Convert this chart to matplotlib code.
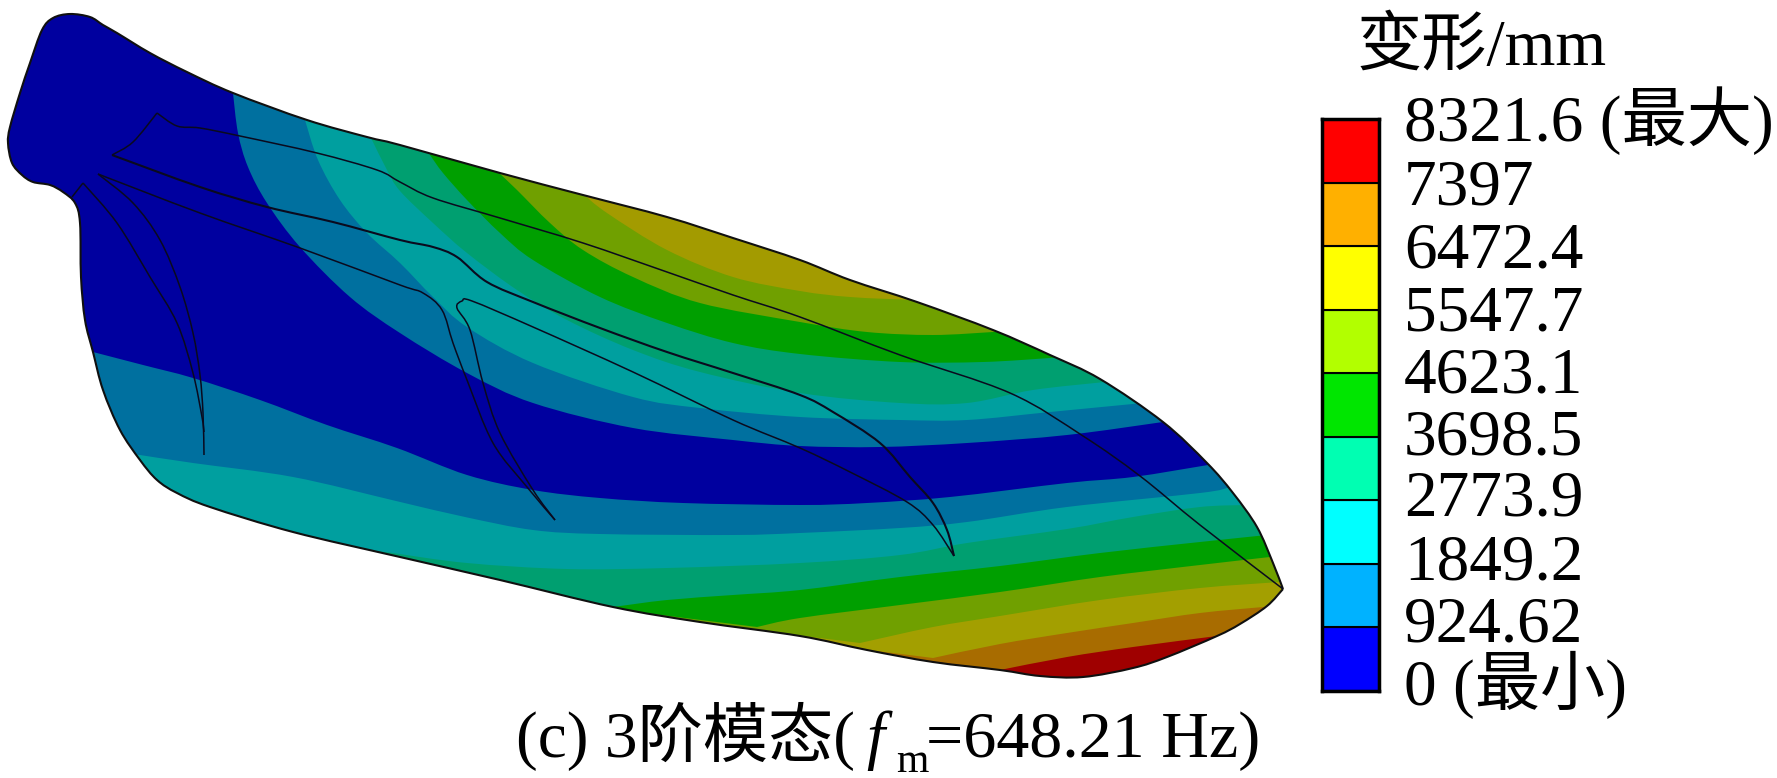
import numpy as np
import matplotlib
matplotlib.use('Agg')
import matplotlib.pyplot as plt
from matplotlib.path import Path
from matplotlib.patches import PathPatch

plt.rcParams['font.family'] = ['Liberation Serif', 'Noto Sans CJK SC']

# legend
levels = ['0 (最小)', '924.62', '1849.2', '2773.9', '3698.5', '4623.1',
          '5547.7', '6472.4', '7397', '8321.6 (最大)']
level_baselines = [705, 642, 580, 516, 454, 392, 330, 267, 204, 141]
bar_colors = ['#0000ff', '#00b2ff', '#00ffff', '#00ffb2', '#00e600',
              '#b2ff00', '#ffff00', '#ffb000', '#ff0000']

# colours on the blade (shaded versions of the legend)
blue = '#00009f'
upper_colors = ['#00709f', '#009f9f', '#009f70', '#009f00', '#70a000', '#a39b00']
lower_colors = ['#00709f', '#009f9f', '#009f70', '#009f00', '#70a000', '#a39f00',
                '#a86c00', '#9f0000']

# blade outline, starts and ends at the tip
outline = [(1283, 589), (1267, 606), (1240, 624), (1217, 636), (1167, 657), (1133, 668),
           (1083, 677), (1040, 676), (1000, 670), (933, 662), (867, 650), (800, 636),
           (700, 622), (613, 607), (500, 580), (400, 557), (293, 532), (210, 507),
           (177, 493), (157, 480), (140, 460), (120, 430), (103, 390), (93, 352),
           (85, 320), (81, 277), (80, 223), (75, 203), (63, 192), (50, 185), (33, 182),
           (22, 175), (12, 163), (8, 143), (10, 127), (20, 93), (30, 63), (42, 30),
           (53, 18), (70, 14), (90, 17), (103, 25), (117, 33), (150, 53), (187, 72),
           (233, 93), (307, 120), (367, 137), (400, 145), (500, 173), (583, 195),
           (667, 217), (733, 238), (800, 260), (850, 280), (917, 302), (993, 330),
           (1050, 355), (1100, 379), (1163, 422), (1207, 463), (1233, 493), (1257, 527),
           (1273, 563), (1283, 589)]

# contour lines of the upper bands
u1 = [(233, 93), (238, 133), (248, 167), (267, 203), (300, 247), (350, 297), (400, 333),
      (467, 373), (533, 403), (633, 428), (733, 440), (800, 446), (880, 447), (967, 443),
      (1067, 435), (1163, 422)]
u2 = [(305, 120), (318, 160), (340, 200), (367, 233), (400, 263), (433, 297), (467, 327),
      (533, 363), (633, 397), (700, 408), (800, 417), (900, 420), (967, 420), (1050, 412),
      (1143, 403)]
u3 = [(372, 140), (387, 170), (400, 191), (433, 223), (467, 253), (517, 290), (567, 320),
      (633, 350), (700, 372), (800, 393), (900, 403), (967, 403), (1033, 390), (1105, 382)]
u4 = [(430, 155), (443, 173), (467, 200), (500, 233), (533, 260), (600, 297), (667, 323),
      (733, 343), (800, 354), (900, 362), (983, 362), (1050, 358)]
u5 = [(498, 172), (517, 190), (550, 223), (583, 250), (633, 277), (700, 303), (800, 322),
      (867, 332), (933, 335), (993, 332)]
u6 = [(582, 193), (607, 213), (667, 250), (733, 277), (800, 291), (850, 297), (913, 300)]

# contour lines of the lower bands
l1 = [(93, 352), (143, 365), (193, 378), (260, 400), (327, 425), (397, 448), (467, 475),
      (533, 490), (600, 498), (683, 503), (800, 505), (867, 503), (950, 497), (1067, 483),
      (1133, 477), (1208, 465)]
l2 = [(140, 455), (193, 463), (293, 477), (396, 501), (465, 517), (533, 530), (600, 534),
      (733, 535), (800, 533), (900, 528), (967, 522), (1067, 507), (1200, 493), (1227, 488)]
l3 = [(393, 553), (467, 563), (567, 569), (667, 568), (800, 563), (900, 555), (967, 543),
      (1067, 529), (1133, 517), (1200, 507), (1245, 505)]
l4 = [(613, 607), (667, 600), (733, 595), (800, 590), (900, 577), (1000, 566), (1100, 553),
      (1200, 542), (1267, 535)]
l5 = [(757, 627), (800, 618), (900, 605), (1000, 592), (1100, 577), (1200, 565), (1270, 557)]
l6 = [(860, 643), (933, 627), (1000, 616), (1100, 600), (1200, 588), (1280, 582)]
l7 = [(933, 658), (1000, 644), (1067, 633), (1133, 623), (1200, 613), (1263, 607)]
l8 = [(1000, 670), (1067, 657), (1133, 647), (1217, 636)]

# black lines on the blade
line_a1 = [(112, 155), (133, 142), (157, 113)]
line_a2 = [(157, 113), (177, 126), (200, 128), (240, 136), (317, 153), (377, 170), (400, 182),
           (433, 198), (500, 218), (583, 243), (667, 272), (733, 295), (800, 317), (900, 355),
           (1010, 393), (1083, 436), (1140, 476), (1200, 525), (1283, 589)]
line_b = [(112, 155), (200, 187), (267, 207), (333, 222), (400, 240), (433, 247), (457, 257),
          (487, 282), (533, 302), (600, 328), (667, 352), (733, 373), (800, 395), (833, 412),
          (880, 443), (910, 477), (933, 503), (947, 530), (954, 556)]
line_c = [(954, 556), (933, 525), (907, 502), (850, 472), (800, 448), (733, 420), (633, 372),
          (533, 327), (472, 301), (462, 301), (457, 308), (470, 330), (483, 383), (500, 433),
          (533, 490), (555, 520)]
line_d = [(98, 174), (200, 213), (300, 248), (400, 285), (423, 293), (442, 310), (453, 343),
          (467, 380), (493, 443), (527, 487), (555, 520)]
line_e = [(98, 174), (133, 203), (160, 240), (180, 287), (193, 333), (200, 375), (203, 413),
          (204, 455)]
line_f1 = [(72, 197), (83, 183)]
line_f2 = [(83, 183), (117, 223), (150, 277), (177, 323), (193, 373), (202, 417), (204, 432)]


def smooth(pts):
    # bezier pieces through the points, so matplotlib draws a real curve
    p = np.array(pts, dtype=float)
    verts = [p[0]]
    for i in range(len(p) - 1):
        before = p[max(i - 1, 0)]
        after = p[min(i + 2, len(p) - 1)]
        verts.append(p[i] + (p[i + 1] - before) / 6)
        verts.append(p[i + 1] - (after - p[i]) / 6)
        verts.append(p[i + 1])
    codes = [Path.MOVETO] + [Path.CURVE4] * (len(verts) - 1)
    return verts, codes


def band(curve, before, after):
    # area on one side of a contour line, closed outside the blade
    v, c = smooth(curve)
    verts = before + v + after + [before[0]]
    codes = ([Path.MOVETO] + [Path.LINETO] * len(before) + c[1:]
             + [Path.LINETO] * len(after) + [Path.CLOSEPOLY])
    return Path(verts, codes)


fig = plt.figure(figsize=(17.77, 7.78), dpi=100)
ax = fig.add_axes([0, 0, 1, 1])
ax.set_xlim(0, 1777)
ax.set_ylim(778, 0)
ax.axis('off')

v, c = smooth(outline)
blade = PathPatch(Path(v + [v[0]], c + [Path.CLOSEPOLY]), facecolor=blue, edgecolor='none', zorder=1)
ax.add_patch(blade)

for curve, col in zip([u1, u2, u3, u4, u5, u6], upper_colors):
    x0, y0 = curve[0]
    p = band(curve, [(x0 - 20, -50), (x0 - 5, y0 - 20)], [(1500, curve[-1][1] - 30), (1500, -50)])
    patch = PathPatch(p, facecolor=col, edgecolor='none', zorder=2)
    ax.add_patch(patch)
    patch.set_clip_path(blade)

for curve, col in zip([l1, l2, l3, l4, l5, l6, l7, l8], lower_colors):
    x0, y0 = curve[0]
    p = band(curve, [(x0 - 200, 900), (x0 - 200, y0 - 25)], [(1500, curve[-1][1] - 15), (1500, 900)])
    patch = PathPatch(p, facecolor=col, edgecolor='none', zorder=3)
    ax.add_patch(patch)
    patch.set_clip_path(blade)

ax.add_patch(PathPatch(Path(v, c), facecolor='none', edgecolor='#101010', lw=1.5, zorder=5))

for line in [line_a1, line_a2, line_b, line_c, line_d, line_e, line_f1, line_f2]:
    v, c = smooth(line)
    lw = 1.5 if line is line_b else 1.1
    ax.add_patch(PathPatch(Path(v, c), facecolor='none', edgecolor='#0a0a1e', lw=lw, zorder=6))

# caption, pieced together for the italic f and the subscript
ax.text(516, 757, '(c) 3阶模态(', fontsize=47, va='baseline', ha='left', color='black')
ax.text(866, 757, 'f', fontsize=47, style='italic', va='baseline', ha='left', color='black')
ax.text(896, 772, 'm', fontsize=30, va='baseline', ha='left', color='black')
ax.text(926, 757, '=648.21 Hz)', fontsize=47.5, va='baseline', ha='left', color='black')

# colour legend
ax.text(1357, 65, '变形/mm', fontsize=47, va='baseline', ha='left', color='black')
cb = fig.add_axes([1322 / 1777, (778 - 691) / 778, 57 / 1777, (691 - 119) / 778])
cb.bar(0.5, np.ones(len(bar_colors)), bottom=np.arange(len(bar_colors)), width=1,
       color=bar_colors, edgecolor='black', linewidth=1.5)
cb.set_xlim(0, 1)
cb.set_ylim(0, len(bar_colors))
cb.set_xticks([])
cb.set_yticks([])
for s in cb.spines.values():
    s.set_linewidth(2.5)
for label, base in zip(levels, level_baselines):
    ax.text(1404, base, label, fontsize=47, va='baseline', ha='left', color='black')

fig.savefig('out.png', dpi=100, facecolor='white')
